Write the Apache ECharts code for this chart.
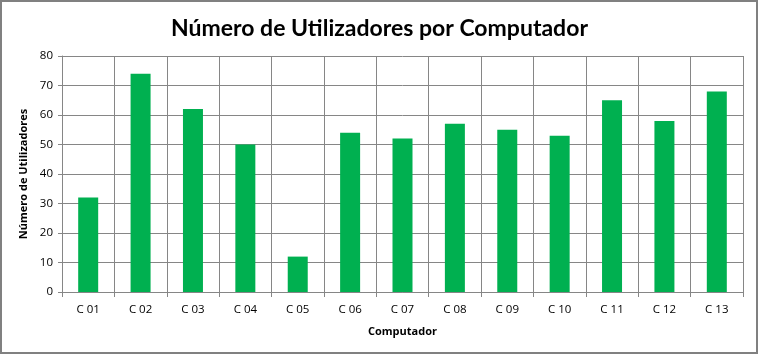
<!DOCTYPE html>
<html><head><meta charset="utf-8">
<script src="https://cdn.jsdelivr.net/npm/echarts@6/dist/echarts.min.js"></script>
<style>html,body{margin:0;padding:0;background:#fff}#c{width:759px;height:355px}</style>
</head><body><div id="c"></div>
<script>
const categories = ["C 01","C 02","C 03","C 04","C 05","C 06","C 07","C 08","C 09","C 10","C 11","C 12","C 13"];
const utilizadores = [32, 74, 62, 50, 12, 54, 52, 57, 55, 53, 65, 58, 68];
const yTicks = [0, 10, 20, 30, 40, 50, 60, 70, 80];

const chart = echarts.init(document.getElementById('c'), null, {renderer: 'canvas'});
const gridColor = '#868686';
chart.setOption({
  animation: false,
  backgroundColor: '#fff',
  title: {
    text: 'Número de Utilizadores por Computador',
    left: 'center', top: 12,
    textStyle: {fontFamily: 'Lato', fontWeight: 'bold', fontSize: 23, color: '#000'}
  },
  graphic: [{
    type: 'rect', shape: {x: 1, y: 1, width: 756, height: 352},
    style: {fill: 'none', stroke: '#808080', lineWidth: 2}, silent: true
  }],
  grid: {left: 62, right: 16, top: 56, bottom: 63, containLabel: false},
  xAxis: {
    type: 'category', data: categories,
    name: 'Computador', nameLocation: 'middle', nameGap: 34,
    nameTextStyle: {fontFamily: 'Open Sans', fontWeight: 'bold', fontSize: 11, color: '#000'},
    axisLine: {show: true, lineStyle: {color: gridColor, width: 1}},
    axisTick: {show: true, length: 5, alignWithLabel: false, lineStyle: {color: gridColor}},
    axisLabel: {fontFamily: 'Open Sans', fontSize: 11.5, color: '#000', margin: 12},
    splitLine: {show: true, lineStyle: {color: gridColor, width: 1}}
  },
  yAxis: {
    type: 'value', min: yTicks[0], max: yTicks[yTicks.length - 1], interval: 10,
    name: 'Número de Utilizadores', nameLocation: 'middle', nameGap: 31,
    nameTextStyle: {fontFamily: 'Open Sans', fontWeight: 'bold', fontSize: 11, color: '#000'},
    axisLine: {show: true, lineStyle: {color: gridColor, width: 1}},
    axisTick: {show: true, length: 4, lineStyle: {color: gridColor}},
    axisLabel: {fontFamily: 'Open Sans', fontSize: 11.5, color: '#000', margin: 9},
    splitLine: {show: true, lineStyle: {color: gridColor, width: 1}}
  },
  series: [{
    type: 'bar', data: utilizadores, barWidth: 20,
    itemStyle: {color: '#00B050'}
  }]
});
</script></body></html>
